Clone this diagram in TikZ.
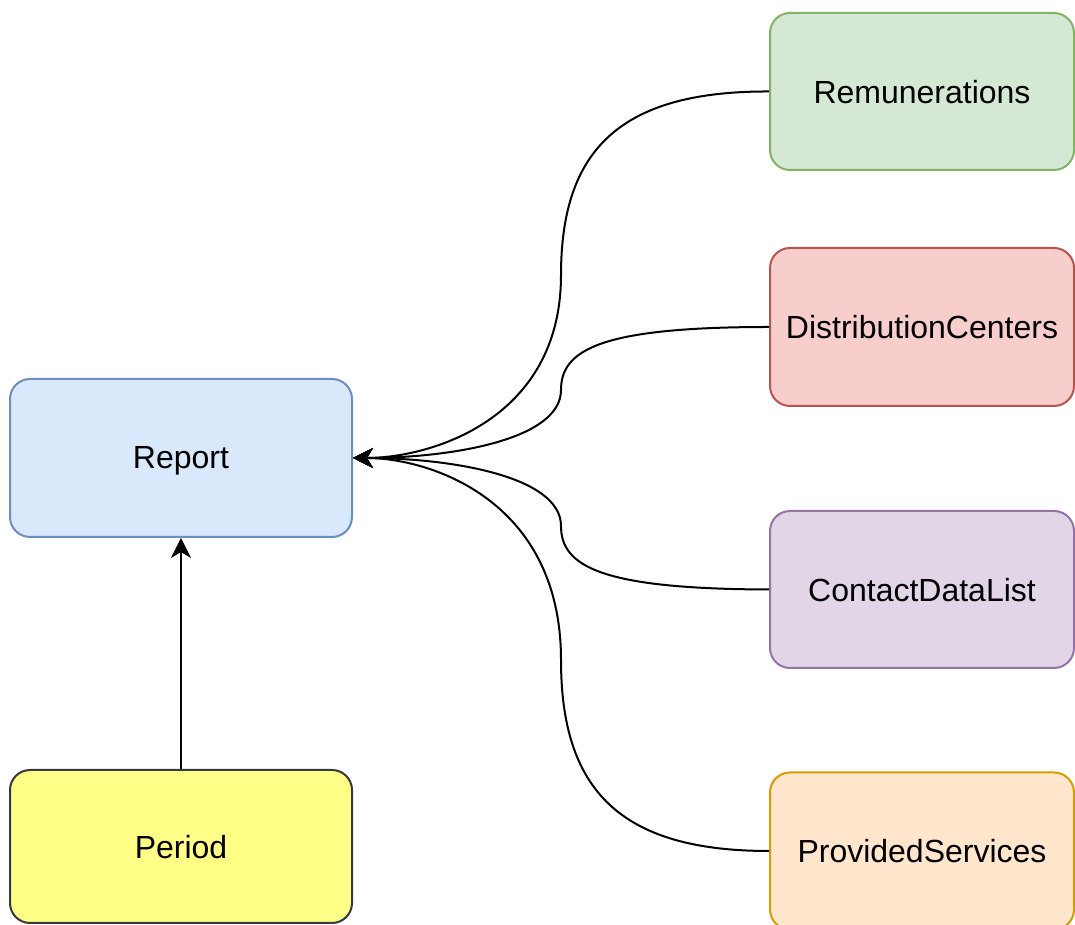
\documentclass[tikz,border=0pt]{standalone}
\usepackage{fontspec}
\setmainfont{Liberation Sans}
\usepackage{tikz}
\usetikzlibrary{arrows.meta}

\definecolor{bluefill}{HTML}{DAE8FC}\definecolor{bluedraw}{HTML}{6C8EBF}
\definecolor{greenfill}{HTML}{D5E8D4}\definecolor{greendraw}{HTML}{82B366}
\definecolor{redfill}{HTML}{F8CECC}\definecolor{reddraw}{HTML}{B85450}
\definecolor{purplefill}{HTML}{E1D5E7}\definecolor{purpledraw}{HTML}{9673A6}
\definecolor{orangefill}{HTML}{FFE6CC}\definecolor{orangedraw}{HTML}{D79B00}
\definecolor{yellowfill}{HTML}{FFFF88}\definecolor{yellowdraw}{HTML}{36393D}

\tikzset{
  entity/.style={draw, rounded corners=20pt, line width=2pt, inner sep=0pt,
    font=\fontsize{32}{38}\selectfont, text depth=0pt, yshift=0pt},
  leftbox/.style={entity, minimum width=342pt, minimum height=158pt},
  rightbox/.style={entity, minimum width=304pt, minimum height=158pt},
  link/.style={line width=2pt, -{Stealth[length=20pt, width=20pt, inset=6pt]}}
}

\begin{document}
\begin{tikzpicture}[x=1pt,y=1pt]
          \useasboundingbox (0,0) rectangle (1075,925);

          \node[leftbox, fill=bluefill, draw=bluedraw] (report) at (181,467) {Report};
          \node[leftbox, fill=yellowfill, draw=yellowdraw, minimum height=153pt] (period) at (181,78.5) {Period};

          \node[rightbox, fill=greenfill, draw=greendraw, minimum height=157pt] (remun) at (922,833.5) {Remunerations};
          \node[rightbox, fill=redfill, draw=reddraw] (distrib) at (922,598) {DistributionCenters};
          \node[rightbox, fill=purplefill, draw=purpledraw, minimum height=157pt] (contact) at (922,335.5) {ContactDataList};
          \node[rightbox, fill=orangefill, draw=orangedraw, minimum height=157pt] (provided) at (922,74) {ProvidedServices};

          \draw[link] (period.north) -- (report.south);

          \draw[link] (remun.west) .. controls (620,834) and (561,775) .. (561,650)
                .. controls (561,505) and (430,467) .. (report.east);
          \draw[link] (distrib.west) .. controls (600,598) and (561,575) .. (561,535)
                .. controls (561,485) and (450,467) .. (report.east);
          \draw[link] (contact.west) .. controls (600,336) and (561,359) .. (561,399)
                .. controls (561,449) and (450,467) .. (report.east);
          \draw[link] (provided.west) .. controls (620,74) and (561,135) .. (561,265)
                .. controls (561,425) and (430,467) .. (report.east);
        \end{tikzpicture}
\end{document}
